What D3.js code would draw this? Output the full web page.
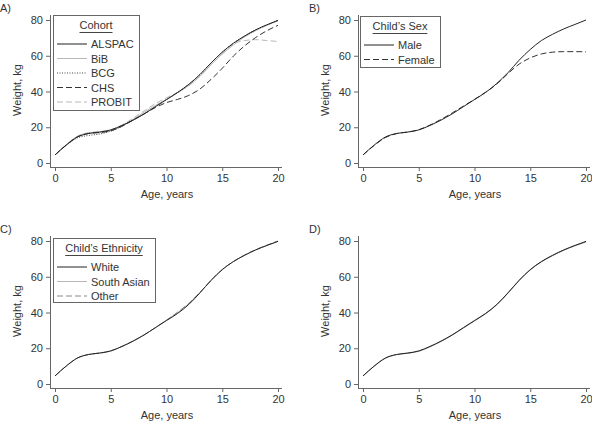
<!DOCTYPE html>
<html><head><meta charset="utf-8">
<script src="https://cdn.jsdelivr.net/npm/d3@7"></script>
<style>body{margin:0;background:#fff}svg{display:block}text{font-family:"Liberation Sans",Arial,sans-serif;fill:#333}</style>
</head><body><svg id="c" width="592" height="425"></svg>
<script>
const ages = d3.range(0, 21);
const xTicks = [0, 5, 10, 15, 20];
const yTicks = [0, 20, 40, 60, 80];

// Panel A: cohorts
const cohortNames = ["ALSPAC", "BiB", "BCG", "CHS", "PROBIT"];
const alspac = [4.5,10,14.5,16.5,17.3,18.5,21,24,27.5,31.5,35.5,39.5,44,49.5,56,62,67,71,74.5,77.3,79.8];
const bib    = [4.5,10.2,14.9,16.8,17.2,18,20.6,24.4,28.4,32.2,35.6,39.3,43.4,48.5,55,61,66,70.5,74,77,79.5];
const bcg    = [4.5,9.8,14,15.4,16.2,17.8,20.6,24,27.5,31.5,35.4,39.4,44,49.5,56,62,67,71,74.5,77.3,79.8];
const chs    = [4.5,10,14.6,16.5,17,18,20.5,24,27.5,31,33.8,35.6,37.8,41.4,46.8,53,59.8,65.5,70.2,74,77];
const probit = [4.5,10.1,14.9,16.9,17.6,18.6,21.2,25,29.2,33.2,36.5,39.5,43.2,48.5,55,61,66.5,68.5,69,68.5,68];

// Panel B: sex
const sexNames = ["Male", "Female"];
const male   = [4.5,10,14.5,16.5,17.3,18.5,21,24,27.5,31.5,35.5,39.5,44.5,50.5,57.5,63.5,68.5,72,75,77.5,80];
const female = [4.5,9.8,14.2,16.4,17.3,18.6,21.2,24.4,28,31.8,35.6,39.6,44.2,50,55.3,58.8,61,62,62.3,62.3,62.2];

// Panel C: ethnicity
const ethNames = ["White", "South Asian", "Other"];
const white  = [4.5,10,14.5,16.5,17.3,18.5,21,24,27.5,31.5,35.5,39.5,44.5,51,58,64,68.5,72,75,77.5,79.8];
const sasian = [4.5,10,14.5,16.5,17.3,18.5,21,24,27.5,31.5,35.8,40,45,51.2,58,64,68.5,72,75,77.5,79.8];
const other  = [4.5,10,14.5,16.5,17.3,18.5,21,24,27.5,31.5,35.7,40.2,45.2,51.3,58,64,68.5,72.2,75.2,77.7,80];

// Panel D: overall
const overallA = [4.5,10,14.5,16.5,17.3,18.5,21,24,27.5,31.5,35.5,39.5,44.5,51,58,64,68.5,72,75,77.5,79.8];
const overallB = [4.5,10,14.4,16.4,17.2,18.3,20.8,23.8,27.3,31.3,35.3,39.3,44.3,50.8,57.8,63.8,68.3,71.8,74.8,77.3,79.5];

const svg = d3.select("#c");
const FS = "11px";

const styles = {
  black:   {stroke:"#222", dash:null, w:1},
  lgray:   {stroke:"#b8b8b8", dash:null, w:1},
  dotted:  {stroke:"#444", dash:"1,1.5", w:1},
  dashed:  {stroke:"#333", dash:"6,3", w:1},
  lgdash:  {stroke:"#b8b8b8", dash:"6,3", w:1},
  mgdash:  {stroke:"#888", dash:"6,3", w:1},
  gray:    {stroke:"#8a8a8a", dash:null, w:1}
};

function panel(o) {
  const g = svg.append("g").attr("transform", `translate(${o.dx},${o.dy})`);
  const x = d3.scaleLinear().domain([0, 20]).range([55, 278]);
  const y = d3.scaleLinear().domain([0, 80]).range([163, 20]);
  const axisCol = "#666";
  g.append("line").attr("x1", 50.5).attr("x2", 50.5).attr("y1", 15).attr("y2", 167).attr("stroke", axisCol);
  g.append("line").attr("x1", 50).attr("x2", 282).attr("y1", 167.5).attr("y2", 167.5).attr("stroke", axisCol);
  const ya = d3.axisLeft(y).tickValues(yTicks).tickSize(4).tickPadding(3);
  const yg = g.append("g").attr("transform", "translate(50,0)").call(ya);
  const xa = d3.axisBottom(x).tickValues(xTicks).tickSize(4).tickPadding(3);
  const xg = g.append("g").attr("transform", "translate(0,167)").call(xa);
  [yg, xg].forEach(a => {
    a.select(".domain").remove();
    a.selectAll("line").attr("stroke", axisCol);
    a.selectAll("text").style("font-size", FS).attr("fill", "#333").style("font-family", '"Liberation Sans",Arial,sans-serif');
  });
  g.append("text").attr("x", 167).attr("y", 198).attr("text-anchor", "middle").style("font-size", FS).text("Age, years");
  g.append("text").attr("transform", "translate(21,90) rotate(-90)").attr("text-anchor", "middle").style("font-size", FS).text("Weight, kg");
  g.append("text").attr("x", o.lx).attr("y", 12).style("font-size", FS).text(o.label);
  const line = d3.line().x((d, i) => x(ages[i])).y(d => y(d)).curve(d3.curveMonotoneX);
  o.series.forEach(s => {
    const st = styles[s.style];
    g.append("path").datum(s.values).attr("d", line).attr("fill", "none")
      .attr("stroke", st.stroke).attr("stroke-width", st.w).attr("stroke-dasharray", st.dash);
  });
  if (o.legend) {
    const L = o.legend;
    g.append("rect").attr("x", L.x + 0.5).attr("y", L.y + 0.5).attr("width", L.w).attr("height", L.h)
      .attr("fill", "#fff").attr("stroke", "#666").attr("stroke-width", 1);
    const t = g.append("text").attr("x", L.x + L.w / 2).attr("y", L.y + 14).attr("text-anchor", "middle")
      .style("font-size", FS).text(L.title);
    const tw = t.node().getComputedTextLength();
    g.append("line").attr("x1", L.x + L.w / 2 - tw / 2).attr("x2", L.x + L.w / 2 + tw / 2)
      .attr("y1", L.y + 17.5).attr("y2", L.y + 17.5).attr("stroke", "#444").attr("stroke-width", 1);
    L.items.forEach((it, i) => {
      const st = styles[it.style];
      const yy = L.y + 29 + i * 14.5;
      g.append("line").attr("x1", L.x + 4).attr("x2", L.x + 34).attr("y1", yy).attr("y2", yy)
        .attr("stroke", st.stroke).attr("stroke-width", st.w).attr("stroke-dasharray", st.dash);
      g.append("text").attr("x", L.x + 38).attr("y", yy + 4).style("font-size", FS).text(it.name);
    });
  }
}

const cohortStyles = ["black", "lgray", "dotted", "dashed", "lgdash"];
panel({dx: 0, dy: 0, label: "A)", lx: 0,
  series: [
    {values: probit, style: "lgdash"}, {values: bib, style: "lgray"},
    {values: chs, style: "dashed"}, {values: bcg, style: "dotted"}, {values: alspac, style: "black"}
  ],
  legend: {x: 53, y: 15, w: 86, h: 95, title: "Cohort",
    items: cohortNames.map((n, i) => ({name: n, style: cohortStyles[i]}))}
});
panel({dx: 308, dy: 0, label: "B)", lx: 1,
  series: [{values: female, style: "dashed"}, {values: male, style: "black"}],
  legend: {x: 52, y: 16, w: 80, h: 51, title: "Child\u2019s Sex",
    items: [{name: sexNames[0], style: "black"}, {name: sexNames[1], style: "dashed"}]}
});
panel({dx: 0, dy: 221, label: "C)", lx: 0,
  series: [{values: sasian, style: "lgray"}, {values: other, style: "mgdash"}, {values: white, style: "black"}],
  legend: {x: 53, y: 17, w: 102, h: 64, title: "Child\u2019s Ethnicity",
    items: [{name: ethNames[0], style: "black"}, {name: ethNames[1], style: "lgray"}, {name: ethNames[2], style: "mgdash"}]}
});
panel({dx: 308, dy: 221, label: "D)", lx: 1,
  series: [{values: overallB, style: "gray"}, {values: overallA, style: "black"}]
});
</script></body></html>
